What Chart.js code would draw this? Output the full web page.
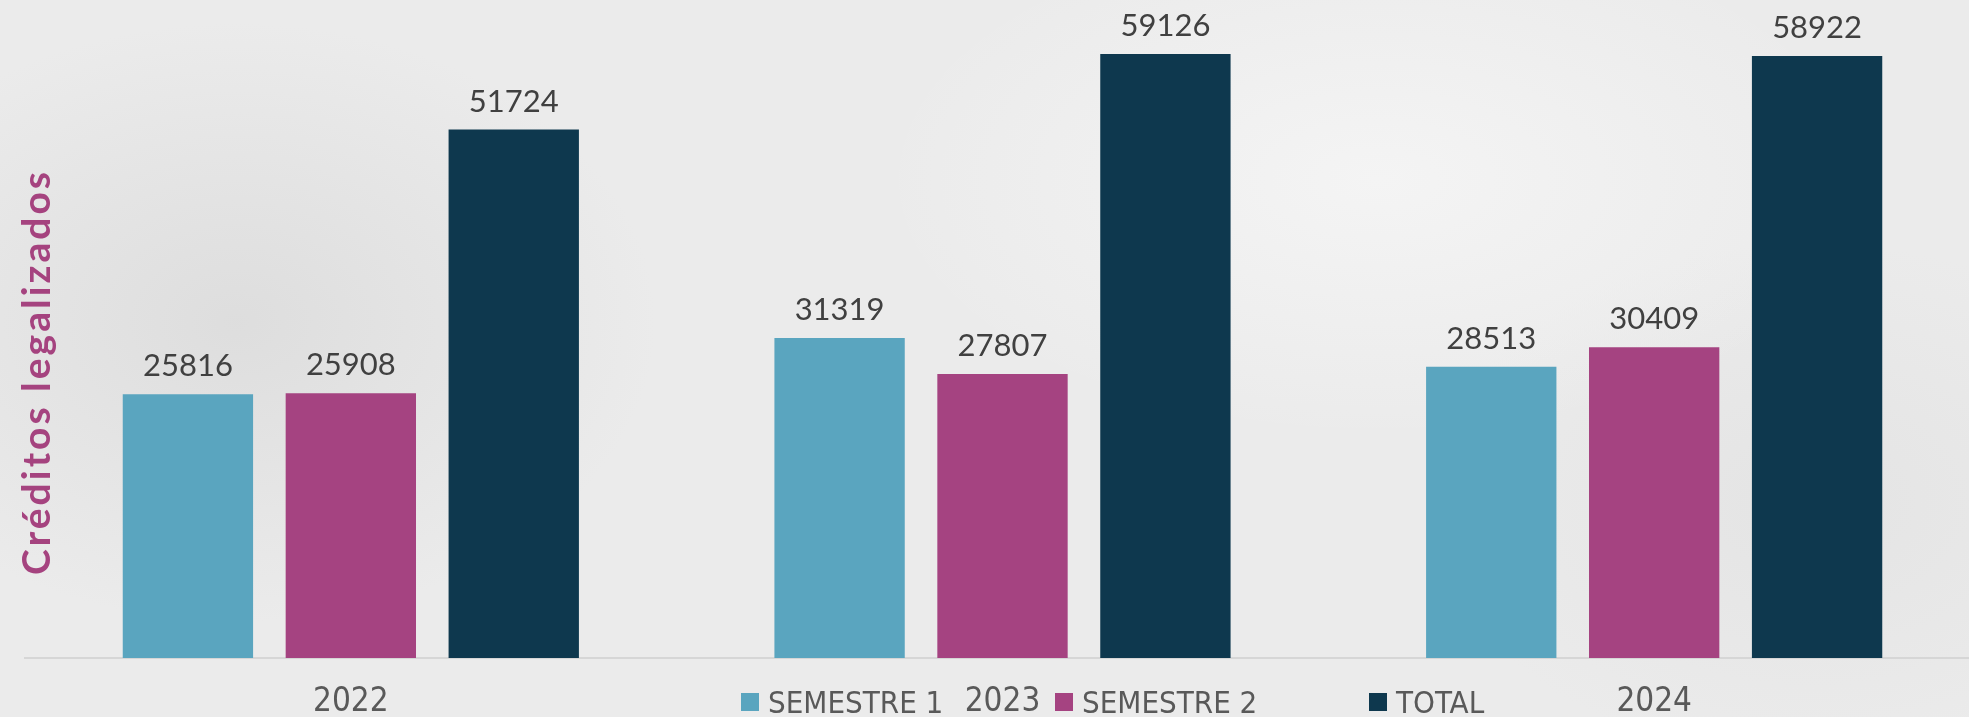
<!DOCTYPE html>
<html>
<head>
<meta charset="utf-8">
<script src="https://cdn.jsdelivr.net/npm/chart.js@4"></script>
<style>
  html, body { margin: 0; padding: 0; overflow: hidden; }
  body {
    width: 1969px; height: 717px; position: relative;
    background:
      radial-gradient(ellipse 420px 300px at 12% 45%, rgba(205,205,205,0.45), transparent),
      radial-gradient(ellipse 500px 260px at 70% 25%, rgba(250,250,250,0.6), transparent),
      radial-gradient(ellipse 380px 260px at 92% 70%, rgba(215,215,215,0.35), transparent),
      #ebebeb;
  }
  #wrap { position: absolute; left: 0; top: 0; width: 1980px; height: 717px; }
  #legend {
    position: absolute; left: 741px; top: 683px; height: 38px;
    display: flex; align-items: center;
    font-family: 'Liberation Sans Narrow', 'DejaVu Sans Condensed', sans-serif;
    font-size: 31px; color: #595959;
  }
  #legend .item { width: 314px; display: flex; align-items: center; white-space: nowrap; }
  #legend .item:last-child { width: auto; }
  #legend .box { width: 18px; height: 18px; margin-right: 9px; flex: none; }
</style>
</head>
<body>
<div id="wrap"><canvas id="chart"></canvas></div>
<div id="legend"></div>
<script>
const years = ['2022', '2023', '2024']
const semestre1 = [25816, 31319, 28513]
const semestre2 = [25908, 27807, 30409]
const total = [51724, 59126, 58922]

const seriesNames = ['SEMESTRE 1', 'SEMESTRE 2', 'TOTAL']
const colors = ['#5aa5bf', '#a54381', '#0e384e']

const condensed = "'Liberation Sans Narrow', 'DejaVu Sans Condensed', sans-serif"

// value above each bar
const barLabels = {
  id: 'barLabels',
  afterDatasetsDraw(chart) {
    const { ctx } = chart
    ctx.save()
    ctx.font = '31px Lato'
    ctx.fillStyle = '#404040'
    ctx.textAlign = 'center'
    ctx.textBaseline = 'alphabetic'
    chart.data.datasets.forEach((ds, i) => {
      chart.getDatasetMeta(i).data.forEach((bar, j) => {
        ctx.fillText(String(ds.data[j]), bar.x, bar.y - 18)
      })
    })
    ctx.restore()
  },
}

// rotated y title, drawn over the plot like the original
const yTitle = {
  id: 'yTitle',
  afterDraw(chart) {
    const { ctx } = chart
    ctx.save()
    ctx.translate(37, 372)
    ctx.rotate(-Math.PI / 2)
    ctx.font = 'bold 39px Lato'
    ctx.letterSpacing = '3px'
    ctx.fillStyle = '#a5437f'
    ctx.textAlign = 'center'
    ctx.textBaseline = 'middle'
    ctx.fillText('Créditos legalizados', 0, 0)
    ctx.restore()
  },
}

const datasets = [semestre1, semestre2, total].map((d, i) => ({
  label: seriesNames[i],
  data: d,
  backgroundColor: colors[i],
  borderWidth: 0,
  categoryPercentage: 0.75,
  barPercentage: 0.8,
}))

new Chart(document.getElementById('chart'), {
  type: 'bar',
  data: { labels: years, datasets },
  options: {
    responsive: true,
    maintainAspectRatio: false,
    animation: false,
    layout: { padding: { top: 45, left: 25, right: 0, bottom: 0 } },
    scales: {
      x: {
        grid: { display: false, drawTicks: false },
        border: { display: true, color: '#d6d6d6', width: 2 },
        ticks: {
          color: '#595959',
          padding: 25,
          font: { family: condensed, size: 33 },
        },
        afterFit: (s) => { s.height = 59 },
      },
      y: {
        display: false,
        min: 0,
        max: 60000,
      },
    },
    plugins: {
      legend: { display: false },
      tooltip: { enabled: false },
    },
  },
  plugins: [barLabels, yTitle],
})

const legend = document.getElementById('legend')
seriesNames.forEach((name, i) => {
  const item = document.createElement('div')
  item.className = 'item'
  const box = document.createElement('span')
  box.className = 'box'
  box.style.background = colors[i]
  item.appendChild(box)
  item.appendChild(document.createTextNode(name))
  legend.appendChild(item)
})
</script>
</body>
</html>
